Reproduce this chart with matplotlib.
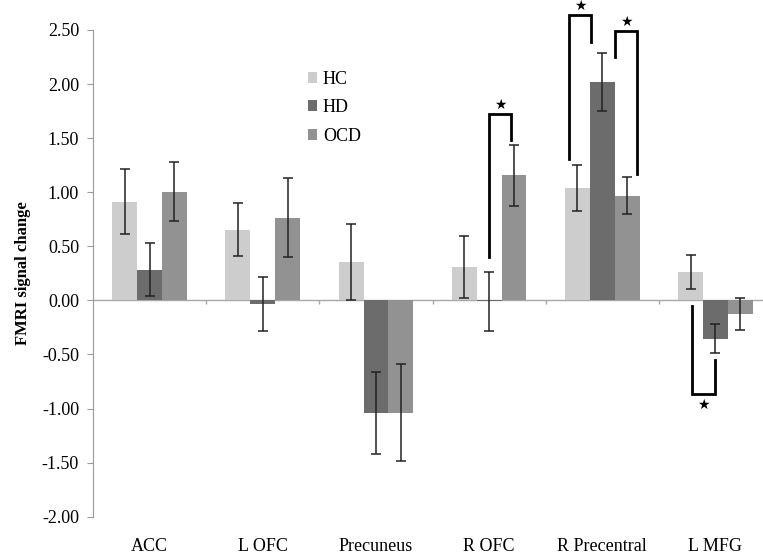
import numpy as np
import matplotlib.pyplot as plt

regions = ['ACC', 'L OFC', 'Precuneus', 'R OFC', 'R Precentral', 'L MFG']
groups = ['HC', 'HD', 'OCD']
colors = ['#cdcdcd', '#6c6c6c', '#929292']

hc = [0.91, 0.655, 0.355, 0.31, 1.037, 0.263]
hd = [0.284, -0.03, -1.04, -0.01, 2.02, -0.355]
ocd = [1.006, 0.766, -1.037, 1.157, 0.967, -0.127]

hc_err = [0.30, 0.245, 0.35, 0.285, 0.21, 0.16]
hd_err = [0.245, 0.25, 0.38, 0.27, 0.265, 0.135]
ocd_err = [0.27, 0.365, 0.45, 0.28, 0.17, 0.15]

# significance brackets: (region index, left x offset, right x offset, bar level, left leg end, right leg end)
brackets = [
    (3, 0.0, 0.19, 1.72, 0.40, 1.48),
    (4, -0.29, -0.103, 2.638, 1.31, 2.39),
    (4, 0.114, 0.306, 2.49, 2.25, 1.17),
    (5, -0.21, 0.0, -0.867, -0.055, -0.555),
]

plt.rcParams['font.family'] = ['Liberation Serif', 'DejaVu Serif']

fig = plt.figure(figsize=(7.63, 5.57), dpi=100)
ax = fig.add_axes([0.1219, 0.0724, 0.890, 0.8738])

x = np.arange(len(regions)) + 0.5
w = 0.22
for i, (vals, errs) in enumerate([(hc, hc_err), (hd, hd_err), (ocd, ocd_err)]):
    ax.bar(x + (i - 1) * w, vals, w, color=colors[i], label=groups[i], zorder=2)
    ax.errorbar(x + (i - 1) * w, vals, yerr=errs, fmt='none', ecolor='#222222',
                elinewidth=1.1, capsize=3.5, capthick=1.1, zorder=3)

for idx, lo, ro, lev, lend, rend in brackets:
    xl, xr = x[idx] + lo, x[idx] + ro
    ax.plot([xl, xl, xr, xr], [lend, lev, lev, rend], color='black', lw=2,
            solid_joinstyle='miter', zorder=4, clip_on=False)
    star_y = lev + 0.085 if lev > 0 else lev - 0.1
    ax.text((xl + xr) / 2, star_y, '★', ha='center', va='center', fontsize=10,
            family='DejaVu Sans', zorder=4, clip_on=False)

ax.set_xlim(0, len(regions))
ax.set_ylim(-2.0, 2.5)
ax.set_yticks(np.arange(-2.0, 2.51, 0.5))
ax.set_yticklabels(['%.2f' % v for v in np.arange(-2.0, 2.51, 0.5)], fontsize=13)
ax.tick_params(axis='y', direction='out', length=4, color='#9a9a9a', pad=6)
ax.set_xticks(x)
ax.set_xticklabels(regions, fontsize=13)
ax.tick_params(axis='x', length=0, pad=15)

for s in ['top', 'right', 'bottom']:
    ax.spines[s].set_visible(False)
ax.spines['left'].set_color('#9a9a9a')

ax.axhline(0, color='#a8a8a8', lw=1, zorder=1)
bounds = np.arange(1, len(regions))
ax.vlines(bounds, -0.037, 0, color='#a8a8a8', lw=1)

ax.set_ylabel('FMRI signal change', fontsize=12, fontweight='bold', labelpad=8)

ax.legend(loc='upper left', bbox_to_anchor=(0.292, 0.95), frameon=False, fontsize=13,
          handlelength=0.55, handleheight=0.55, handletextpad=0.3, labelspacing=0.65)

fig.savefig('out.png', dpi=100)
